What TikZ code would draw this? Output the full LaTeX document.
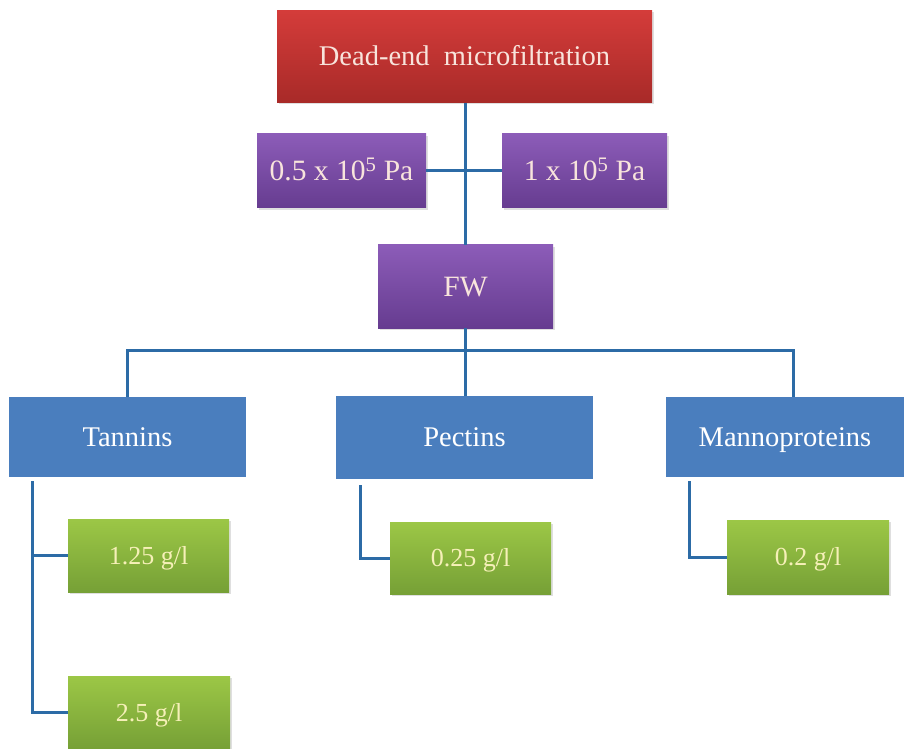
\documentclass[tikz,border=0pt]{standalone}
\usepackage{fontspec}
\setmainfont{Liberation Serif}
\usetikzlibrary{shadows}
\definecolor{redtop}{HTML}{D43C3A}
\definecolor{redbot}{HTML}{A82A28}
\definecolor{purtop}{HTML}{8C5CB8}
\definecolor{purbot}{HTML}{663C90}
\definecolor{bluebox}{HTML}{4A7EBE}
\definecolor{grntop}{HTML}{9CC746}
\definecolor{grnbot}{HTML}{76A036}
\definecolor{linecol}{HTML}{2C6BA6}
\definecolor{pinktext}{HTML}{F8E4DC}
\definecolor{yeltext}{HTML}{F6F0B8}
\tikzset{
  box/.style={rectangle, inner sep=0pt, text height=24.8pt, text depth=6pt, font=\fontsize{28.5}{31}\selectfont},
  shad/.style={drop shadow={opacity=0.25, shadow xshift=2pt, shadow yshift=-2pt}},
  redbox/.style={box, shad, top color=redtop, bottom color=redbot, text=pinktext},
  purbox/.style={box, shad, top color=purtop, bottom color=purbot, text=pinktext, font=\fontsize{29.5}{32}\selectfont, text height=25.5pt},
  bluenode/.style={box, fill=bluebox, text=white},
  grnbox/.style={box, shad, top color=grntop, bottom color=grnbot, text=yeltext, font=\fontsize{26}{29}\selectfont, text height=23.2pt},
  conn/.style={draw=linecol, line width=3pt}
}
\begin{document}
\begin{tikzpicture}[x=1pt,y=-1pt]
\useasboundingbox (0,0) rectangle (906,749);
\node[redbox, minimum width=375, minimum height=92] (red) at (464.5,56.5) {Dead-end\ \ microfiltration};
\node[purbox, minimum width=169, minimum height=74] (p1) at (341.5,171) {0.5 x 10\textsuperscript{5} Pa};
\node[purbox, minimum width=165, minimum height=74] (p2) at (584.5,171) {1 x 10\textsuperscript{5} Pa};
\node[purbox, minimum width=175, minimum height=83] (fw) at (465.5,286.5) {FW};
\node[bluenode, minimum width=237, minimum height=80] (tan) at (127.5,437) {Tannins};
\node[bluenode, minimum width=257, minimum height=83] (pec) at (464.5,437.5) {Pectins};
\node[bluenode, minimum width=238, minimum height=80] (man) at (785,437) {Mannoproteins};
\node[grnbox, minimum width=161, minimum height=73] (g1) at (148.5,555.5) {1.25 g/l};
\node[grnbox, minimum width=162, minimum height=73] (g2) at (149,712.5) {2.5 g/l};
\node[grnbox, minimum width=161, minimum height=72] (g3) at (470.5,558) {0.25 g/l};
\node[grnbox, minimum width=162, minimum height=74] (g4) at (808,557) {0.2 g/l};
\coordinate (bus) at (465,350);
\coordinate (tanx) at ([xshift=24pt,yshift=-4pt]tan.south west);
\coordinate (pecx) at ([xshift=25pt,yshift=-6pt]pec.south west);
\coordinate (manx) at ([xshift=24pt,yshift=-4pt]man.south west);
\coordinate (mantop) at ([xshift=8pt]man.north);
\draw[conn] (red.south -| bus) -- (fw.north -| bus);
\draw[conn] (p1.east) -- (p2.west);
\draw[conn] (fw.south -| bus) -- (bus);
\draw[conn] (tan.north) |- (bus) -| (mantop);
\draw[conn] (bus) -- (pec.north -| bus);
\draw[conn] (tanx) |- (g1.west);
\draw[conn] (tanx) |- (g2.west);
\draw[conn] (pecx) |- (g3.west);
\draw[conn] (manx) |- (g4.west);
\end{tikzpicture}
\end{document}
